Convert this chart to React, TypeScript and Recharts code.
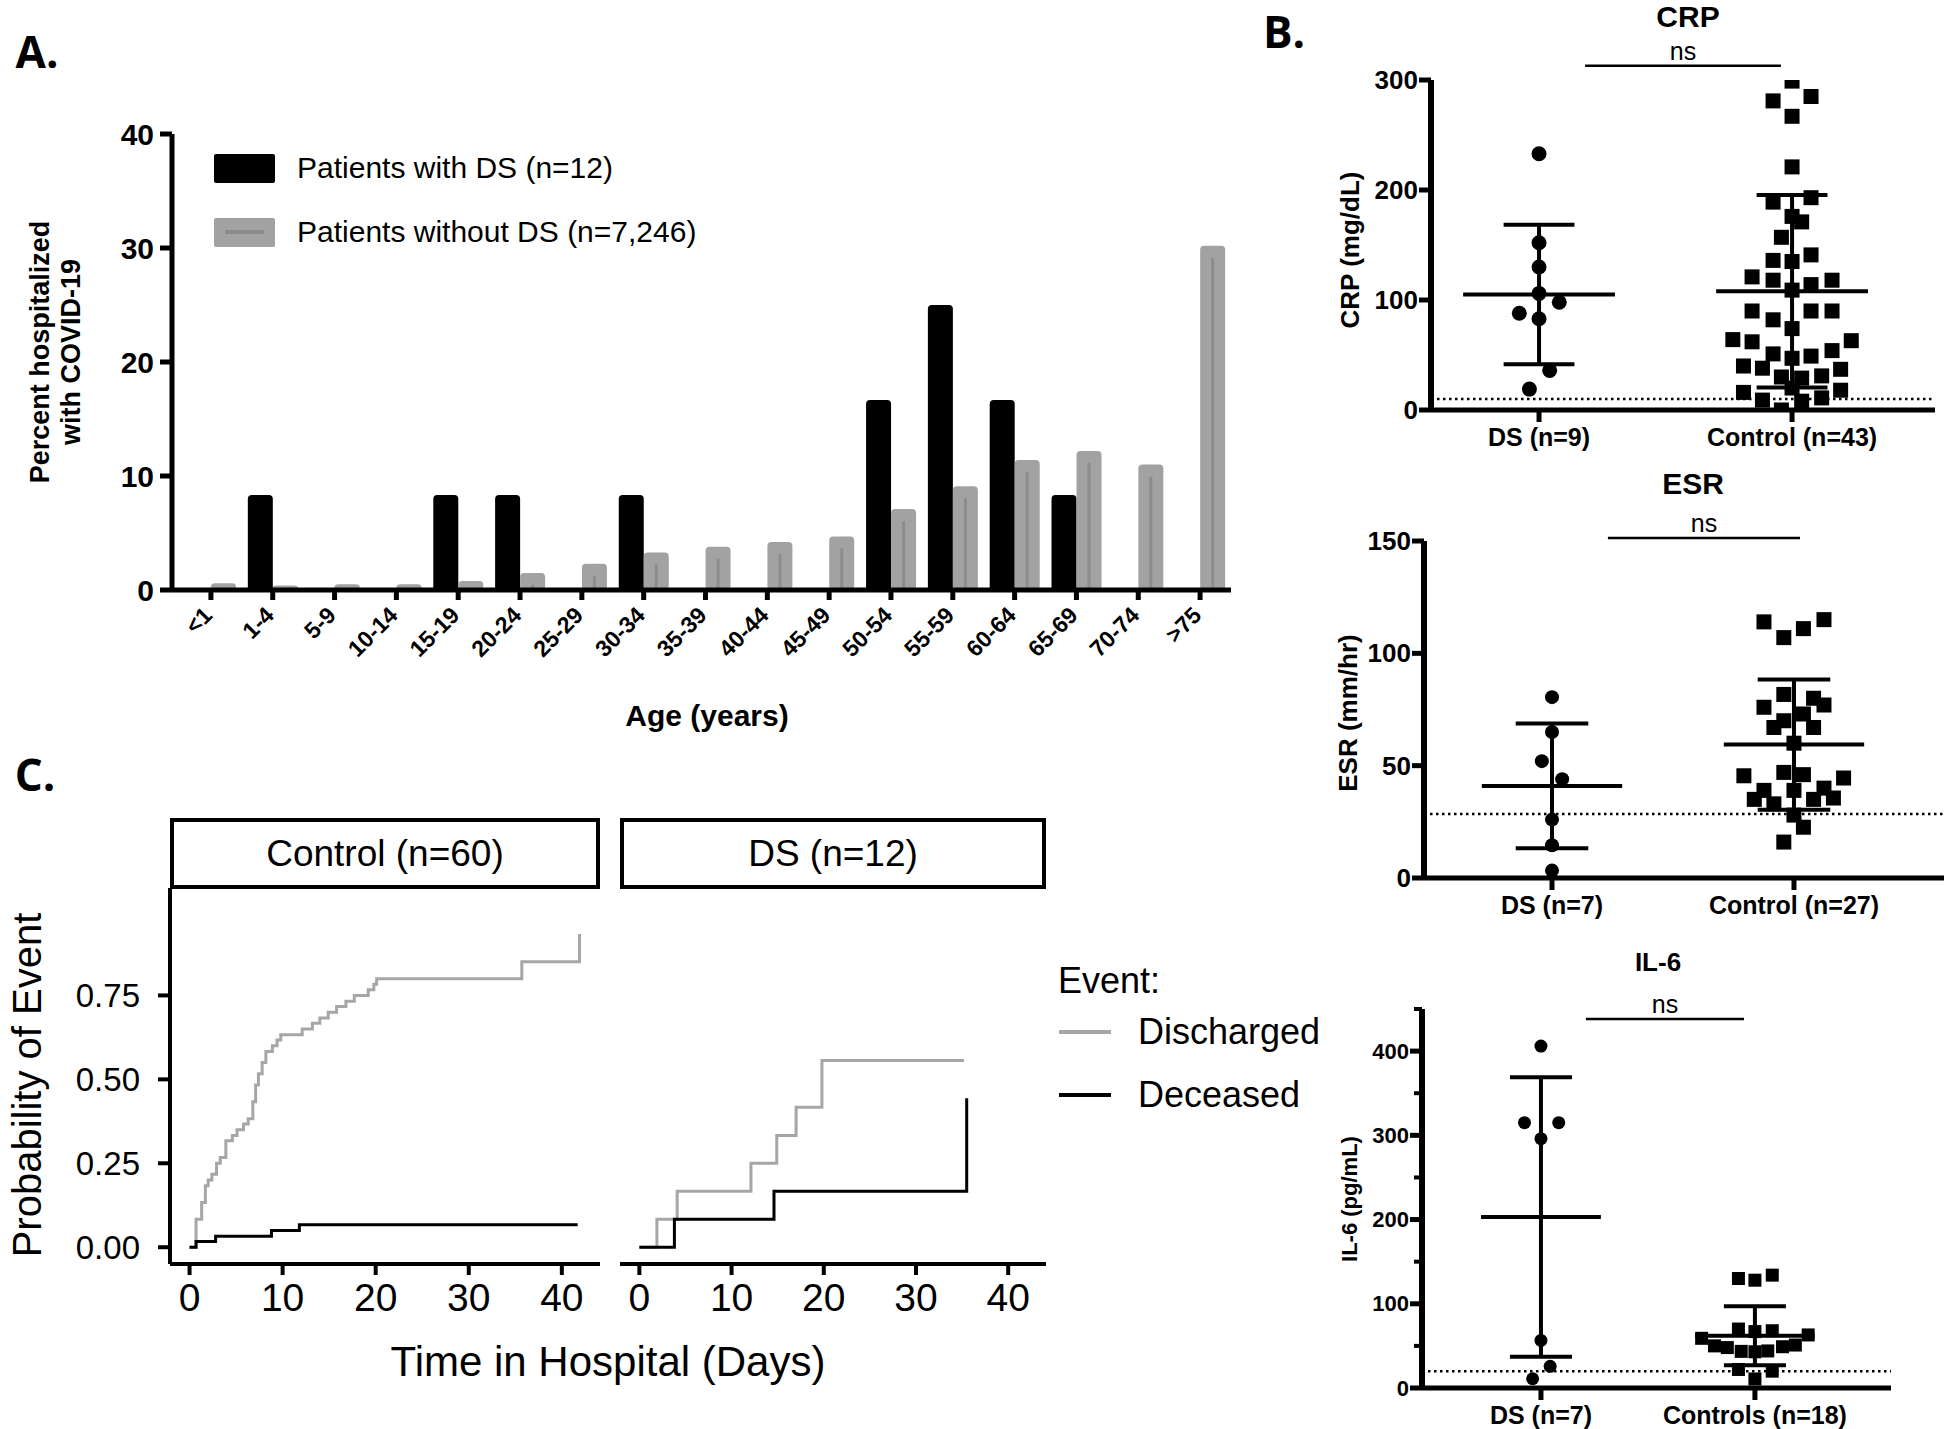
import React from 'react';
import {
  BarChart, Bar, XAxis, YAxis,
  ScatterChart, Scatter, ReferenceLine, LineChart, Line,
} from 'recharts';

const SANS = '"Liberation Sans", Arial, Helvetica, sans-serif';
const HEAD = '"Open Sans", "Liberation Sans", sans-serif';
const GREY_BAR = '#a2a2a2';
const GREY_LINE = '#a6a6a6';

// ---------- A: age distribution (percent hospitalized)
const ageGroups = ['<1', '1-4', '5-9', '10-14', '15-19', '20-24', '25-29', '30-34', '35-39',
  '40-44', '45-49', '50-54', '55-59', '60-64', '65-69', '70-74', '>75'];
const pctWithDS = [0, 8.33, 0, 0, 8.33, 8.33, 0, 8.33, 0, 0, 0, 16.67, 25, 16.67, 8.33, 0, 0];
const pctWithoutDS = [0.6, 0.4, 0.5, 0.5, 0.8, 1.5, 2.3, 3.3, 3.8, 4.2, 4.7, 7.1, 9.1, 11.4, 12.2, 11.0, 30.2];
const pctTicks = [0, 10, 20, 30, 40];

// ---------- B: lab values, [jitter, value]; group 1 = DS, group 2 = control
type Pt = [number, number];
const crpDS: Pt[] = [[0, 233], [0, 152], [0, 130], [0, 106], [0.08, 98], [-0.078, 88], [0, 83], [0.042, 36], [-0.038, 19]];
const crpControl: Pt[] = [
  [0, 299], [0.075, 285], [-0.075, 281], [0, 267], [0, 221], [0.075, 193], [-0.075, 189], [0, 176], [0.038, 171],
  [-0.042, 157], [0.075, 141], [-0.075, 136], [0, 135], [-0.158, 121], [-0.075, 118], [0.158, 118], [0.075, 114], [0, 109],
  [-0.158, 90], [0.075, 90], [0.158, 90], [-0.075, 82], [0, 74], [-0.234, 64], [-0.158, 62], [0.234, 63], [0.158, 54],
  [-0.075, 51], [0.075, 49], [0, 47], [-0.192, 40], [-0.117, 38], [0.192, 37], [-0.042, 30], [0.038, 29], [0.117, 31],
  [-0.192, 16], [0.192, 18], [0.117, 11], [-0.117, 9], [0.038, 8], [-0.042, 0], [0, 20],
];
const crpMean = [105, 108];
const crpSD = [63.5, 87.5];
const crpCutoff = 10;
const crpLabels = ['DS (n=9)', 'Control (n=43)'];

const esrDS: Pt[] = [[0, 80.5], [0, 65], [-0.042, 52], [0.042, 44], [0, 26], [0, 14.6], [0, 3.3]];
const esrControl: Pt[] = [
  [-0.124, 114], [-0.042, 107], [0.039, 111], [0.124, 115], [-0.042, 81.7], [0.081, 80], [0.124, 77], [-0.124, 76],
  [0.039, 73], [-0.042, 70], [-0.083, 67], [0.081, 67], [0, 60], [-0.042, 47], [0.039, 46], [-0.207, 45.5],
  [0.205, 44.5], [-0.124, 39], [0, 39], [0.124, 40], [-0.164, 35], [-0.083, 33], [0.081, 35], [0.163, 35.6],
  [0, 28], [0.039, 22.6], [-0.042, 16],
];
const esrMean = [41, 59.4];
const esrSD = [27.8, 29];
const esrCutoff = 28.5;
const esrLabels = ['DS (n=7)', 'Control (n=27)'];

const il6DS: Pt[] = [[0, 406], [-0.077, 315], [0.083, 315], [0, 296], [0, 56.5], [0.043, 25.7], [-0.039, 11]];
const il6Control: Pt[] = [
  [-0.077, 130], [0, 128], [0.081, 134], [-0.077, 70], [0, 67], [0.081, 68], [-0.249, 59], [0.249, 63], [-0.189, 50],
  [-0.129, 48], [-0.064, 43.5], [0, 43], [0.06, 44], [0.129, 49], [0.189, 51], [-0.077, 22], [0.081, 20], [0, 10.7],
];
const il6Mean = [203, 62];
const il6SD = [166, 35];
const il6Cutoff = 20;
const il6Labels = ['DS (n=7)', 'Controls (n=18)'];

// ---------- C: cumulative incidence, [day, probability]
const ctrlDischarged: Pt[] = [
  [0, 0], [0.7, 0.083], [1.3, 0.133], [1.7, 0.183], [2.0, 0.2], [2.4, 0.217], [2.9, 0.25], [3.3, 0.267],
  [3.9, 0.317], [4.6, 0.333], [5.1, 0.35], [5.8, 0.367], [6.3, 0.383], [6.8, 0.433], [7.1, 0.483], [7.4, 0.517],
  [7.8, 0.55], [8.2, 0.583], [8.9, 0.6], [9.4, 0.617], [9.8, 0.633], [12.1, 0.65], [13.2, 0.667], [14.0, 0.683],
  [14.9, 0.7], [15.8, 0.717], [16.8, 0.733], [17.7, 0.75], [19.2, 0.767], [19.8, 0.783], [20.1, 0.8],
  [35.7, 0.85], [41.9, 0.933],
];
const ctrlDeceased: Pt[] = [[0, 0], [0.7, 0.017], [2.8, 0.033], [8.8, 0.05], [11.8, 0.067], [41.7, 0.067]];
const dsDischarged: Pt[] = [[0, 0], [1.9, 0.083], [4.1, 0.167], [12.1, 0.25], [14.9, 0.333], [17, 0.417], [19.8, 0.556], [35.2, 0.556]];
const dsDeceased: Pt[] = [[0, 0], [3.8, 0.083], [14.6, 0.167], [35.5, 0.444]];
const dayTicks = [0, 10, 20, 30, 40];
const probTicks = [0, 0.25, 0.5, 0.75];

type Box = { x: number; y: number; w: number; h: number };
// chart frame so that the plot area lands on box (page coordinates)
function place(b: Box, left: number, bottom: number, top: number, right: number) {
  return {
    style: { position: 'absolute' as const, left: b.x - left, top: b.y - top },
    width: b.w + left + right,
    height: b.h + top + bottom,
    margin: { top, right, bottom: 0, left: 0 },
  };
}

function Txt({ x, y, size, weight = 400, rotate = 0, family = SANS, start = false, children }: any) {
  return (
    <div style={{
      position: 'absolute', left: x, top: y, fontFamily: family, fontSize: size, fontWeight: weight,
      lineHeight: 1, whiteSpace: 'nowrap', color: '#000',
      transform: `translate(${start ? '0' : '-50%'}, -50%) rotate(${rotate}deg)`,
    }}>{children}</div>
  );
}

// ---------- panel A
function GreyBar(props: any) {
  const { x, y, width, height } = props;
  if (!height || height <= 0) return null;
  return (
    <g>
      <rect x={x} y={y} width={width} height={height} rx={4} fill={GREY_BAR} />
      {height > 14 && (
        <line x1={x + width / 2} x2={x + width / 2} y1={y + 12} y2={y + height} stroke="#8c8c8c" strokeWidth={3} />
      )}
    </g>
  );
}

function AgeTick(props: any) {
  const { x, y, payload } = props;
  const ax = x - 3;
  const ay = y + 8;
  return (
    <text x={ax} y={ay} transform={`rotate(-45 ${ax} ${ay})`} textAnchor="end" dominantBaseline="central"
      fontFamily={SANS} fontWeight={700} fontSize={23} fill="#000">{payload.value}</text>
  );
}

function AgeChart() {
  const data = ageGroups.map((g, i) => ({ age: g, ds: pctWithDS[i], nonDs: pctWithoutDS[i] }));
  const f = place({ x: 172, y: 134, w: 1059, h: 456 }, 160, 100, 20, 10);
  return (
    <div style={f.style}>
      <BarChart width={f.width} height={f.height} margin={f.margin} data={data} barSize={25} barGap={0}>
        <XAxis dataKey="age" interval={0} height={100} tickSize={10} tickMargin={3} padding={{ left: 8, right: 0 }}
          axisLine={{ stroke: '#000', strokeWidth: 5 }} tickLine={{ stroke: '#000', strokeWidth: 5 }} tick={AgeTick} />
        <YAxis domain={[0, 40]} ticks={pctTicks} width={160} tickSize={12} tickMargin={6}
          axisLine={{ stroke: '#000', strokeWidth: 5 }} tickLine={{ stroke: '#000', strokeWidth: 5 }}
          tick={{ fontSize: 30, fontWeight: 700, fill: '#000', fontFamily: SANS }} />
        <Bar dataKey="ds" fill="#000" radius={[4, 4, 0, 0]} isAnimationActive={false} />
        <Bar dataKey="nonDs" shape={GreyBar} isAnimationActive={false} />
      </BarChart>
    </div>
  );
}

// ---------- panel B
const makeYTick = (major: number, size: number) => (props: any) => {
  const { x, y, payload } = props;
  const v = payload.value;
  const isMajor = v % major === 0;
  return (
    <g>
      <line x1={x} x2={x - (isMajor ? 12 : 8)} y1={y} y2={y} stroke="#000" strokeWidth={isMajor ? 5 : 4} />
      {isMajor && (
        <text x={x - 13} y={y} textAnchor="end" dominantBaseline="central" fontFamily={SANS}
          fontWeight={700} fontSize={size} fill="#000">{v}</text>
      )}
    </g>
  );
};

function DotPanel({ box, top, right, xDomain, yMax, major, minor, labels, ds, ctrl, mean, sd, cutoff, ns,
  meanHalf, capHalf, r, sq, tickSize }: any) {
  const f = place(box, 90, 64, top, right);
  const dsPts = ds.map(([dx, v]: Pt) => ({ x: 1 + dx, y: v }));
  const ctrlPts = ctrl.map(([dx, v]: Pt) => ({ x: 2 + dx, y: v }));
  const yTicks: number[] = [];
  for (let v = 0; v <= yMax; v += minor) yTicks.push(v);
  const segs: { x: number; y: number }[][] = [];
  [1, 2].forEach((g, i) => {
    const m = mean[i];
    const lo = m - sd[i];
    const hi = m + sd[i];
    segs.push([{ x: g - meanHalf, y: m }, { x: g + meanHalf, y: m }]);
    segs.push([{ x: g, y: lo }, { x: g, y: hi }]);
    segs.push([{ x: g - capHalf, y: lo }, { x: g + capHalf, y: lo }]);
    segs.push([{ x: g - capHalf, y: hi }, { x: g + capHalf, y: hi }]);
  });
  return (
    <div style={f.style}>
      <ScatterChart width={f.width} height={f.height} margin={f.margin}>
        <XAxis type="number" dataKey="x" domain={xDomain} ticks={[1, 2]} allowDataOverflow height={64}
          tickFormatter={(v: number) => labels[v - 1]} tickSize={12} tickMargin={6}
          axisLine={{ stroke: '#000', strokeWidth: 5 }} tickLine={{ stroke: '#000', strokeWidth: 5 }}
          tick={{ fontSize: 25, fontWeight: 700, fill: '#000', fontFamily: SANS }} />
        <YAxis type="number" dataKey="y" domain={[0, yMax]} ticks={yTicks} allowDataOverflow width={90}
          tickSize={0} tickMargin={0} tickLine={false} axisLine={{ stroke: '#000', strokeWidth: 6 }}
          tick={makeYTick(major, tickSize)} />
        <ReferenceLine y={cutoff} stroke="#000" strokeWidth={2.5} strokeDasharray="2.5 3.5" />
        {segs.map((s, i) => (
          <ReferenceLine key={i} segment={s} stroke="#000" strokeWidth={4} ifOverflow="visible" />
        ))}
        <ReferenceLine segment={[{ x: ns[0], y: ns[2] }, { x: ns[1], y: ns[2] }]} stroke="#000" strokeWidth={2.5}
          ifOverflow="visible"
          label={{ value: 'ns', position: 'top', offset: 6, fontSize: 25, fill: '#000', fontFamily: SANS }} />
        <Scatter data={dsPts} isAnimationActive={false}
          shape={(p: any) => <circle cx={p.cx} cy={p.cy} r={r} fill="#000" />} />
        <Scatter data={ctrlPts} isAnimationActive={false}
          shape={(p: any) => <rect x={p.cx - sq / 2} y={p.cy - sq / 2} width={sq} height={sq} fill="#000" />} />
      </ScatterChart>
    </div>
  );
}

// ---------- panel C
const toRows = (pts: Pt[]) => pts.map(([d, p]) => ({ day: d, p }));

function KmPanel({ box, showY, discharged, deceased }: any) {
  const f = place(box, showY ? 160 : 10, 70, 10, 10);
  return (
    <div style={f.style}>
      <LineChart width={f.width} height={f.height} margin={{ ...f.margin, left: showY ? 0 : 10 }}>
        <XAxis type="number" dataKey="day" domain={[-2.1, 44.1]} ticks={dayTicks} allowDataOverflow height={70}
          tickSize={11} tickMargin={8} axisLine={{ stroke: '#000', strokeWidth: 4 }}
          tickLine={{ stroke: '#000', strokeWidth: 4 }}
          tick={{ fontSize: 39, fill: '#000', fontFamily: SANS }} />
        <YAxis type="number" domain={[-0.05, 1.07]} ticks={probTicks} allowDataOverflow width={160} hide={!showY}
          tickFormatter={(v: number) => v.toFixed(2)} tickSize={12} tickMargin={18}
          axisLine={{ stroke: '#000', strokeWidth: 4 }} tickLine={{ stroke: '#000', strokeWidth: 4 }}
          tick={{ fontSize: 33, fill: '#000', fontFamily: SANS }} />
        <Line data={toRows(discharged)} dataKey="p" type="stepAfter" stroke={GREY_LINE} strokeWidth={3}
          dot={false} isAnimationActive={false} />
        <Line data={toRows(deceased)} dataKey="p" type="stepAfter" stroke="#000" strokeWidth={3}
          dot={false} isAnimationActive={false} />
      </LineChart>
    </div>
  );
}

function Strip({ x, w, label }: any) {
  return (
    <div style={{
      position: 'absolute', left: x, top: 818, width: w, height: 71, boxSizing: 'border-box',
      border: '4px solid #000', display: 'flex', alignItems: 'center', justifyContent: 'center',
      fontFamily: SANS, fontSize: 37, color: '#000',
    }}>{label}</div>
  );
}

export default function App() {
  return (
    <div style={{ position: 'absolute', left: 0, top: 0, width: 1950, height: 1429, overflow: 'hidden', background: '#fff' }}>
      {/* A */}
      <Txt x={37} y={51} size={44} weight={700} family={HEAD}>A.</Txt>
      <AgeChart />
      <Txt x={40} y={352} size={27} weight={700} rotate={-90}>Percent hospitalized</Txt>
      <Txt x={71} y={352} size={27} weight={700} rotate={-90}>with COVID-19</Txt>
      <Txt x={707} y={716} size={30} weight={700}>Age (years)</Txt>
      <div style={{ position: 'absolute', left: 214, top: 154, width: 61, height: 29, background: '#000', borderRadius: 2 }} />
      <Txt x={297} y={168} size={30} start>Patients with DS (n=12)</Txt>
      <div style={{ position: 'absolute', left: 214, top: 218, width: 61, height: 29, background: GREY_BAR, borderRadius: 2 }}>
        <div style={{ position: 'absolute', left: 11, top: 12, width: 39, height: 4, background: '#8c8c8c' }} />
      </div>
      <Txt x={297} y={232} size={30} start>Patients without DS (n=7,246)</Txt>

      {/* B */}
      <Txt x={1284} y={31} size={44} weight={700} family={HEAD}>B.</Txt>
      <Txt x={1688} y={17} size={30} weight={700}>CRP</Txt>
      <DotPanel box={{ x: 1431, y: 80, w: 504, h: 330 }} top={60} right={10} xDomain={[0.573, 2.565]}
        yMax={300} major={100} minor={100}
        labels={crpLabels} ds={crpDS} ctrl={crpControl} mean={crpMean} sd={crpSD} cutoff={crpCutoff}
        ns={[1.182, 1.956, 313]} meanHalf={0.3} capHalf={0.14} r={7.5} sq={15} tickSize={26} />
      <Txt x={1350} y={250} size={26} weight={700} rotate={-90}>CRP (mg/dL)</Txt>

      <Txt x={1693} y={484} size={30} weight={700}>ESR</Txt>
      <DotPanel box={{ x: 1424, y: 541, w: 520, h: 337 }} top={40} right={4} xDomain={[0.471, 2.62]}
        yMax={150} major={50} minor={50}
        labels={esrLabels} ds={esrDS} ctrl={esrControl} mean={esrMean} sd={esrSD} cutoff={esrCutoff}
        ns={[1.231, 2.025, 151.3]} meanHalf={0.29} capHalf={0.15} r={7} sq={15} tickSize={26} />
      <Txt x={1348} y={713} size={26} weight={700} rotate={-90}>ESR (mm/hr)</Txt>

      <Txt x={1658} y={962} size={26} weight={700}>IL-6</Txt>
      <DotPanel box={{ x: 1422, y: 1009, w: 469, h: 379 }} top={30} right={10} xDomain={[0.444, 2.636]}
        yMax={450} major={100} minor={50}
        labels={il6Labels} ds={il6DS} ctrl={il6Control} mean={il6Mean} sd={il6SD} cutoff={il6Cutoff}
        ns={[1.21, 1.949, 438]} meanHalf={0.28} capHalf={0.145} r={6.5} sq={13} tickSize={22} />
      <Txt x={1350} y={1199} size={22} weight={700} rotate={-90}>IL-6 (pg/mL)</Txt>

      {/* C */}
      <Txt x={35} y={774} size={44} weight={700} family={HEAD}>C.</Txt>
      <Strip x={170} w={430} label="Control (n=60)" />
      <Strip x={620} w={426} label="DS (n=12)" />
      <KmPanel box={{ x: 170, y: 888, w: 430, h: 376 }} showY discharged={ctrlDischarged} deceased={ctrlDeceased} />
      <KmPanel box={{ x: 620, y: 888, w: 426, h: 376 }} showY={false} discharged={dsDischarged} deceased={dsDeceased} />
      <Txt x={27} y={1085} size={40} rotate={-90}>Probability of Event</Txt>
      <Txt x={608} y={1362} size={42}>Time in Hospital (Days)</Txt>
      <Txt x={1058} y={981} size={36} start>Event:</Txt>
      <div style={{ position: 'absolute', left: 1059, top: 1030, width: 52, height: 4, background: GREY_LINE }} />
      <Txt x={1138} y={1032} size={36} start>Discharged</Txt>
      <div style={{ position: 'absolute', left: 1059, top: 1093, width: 52, height: 4, background: '#000' }} />
      <Txt x={1138} y={1095} size={36} start>Deceased</Txt>
    </div>
  );
}
